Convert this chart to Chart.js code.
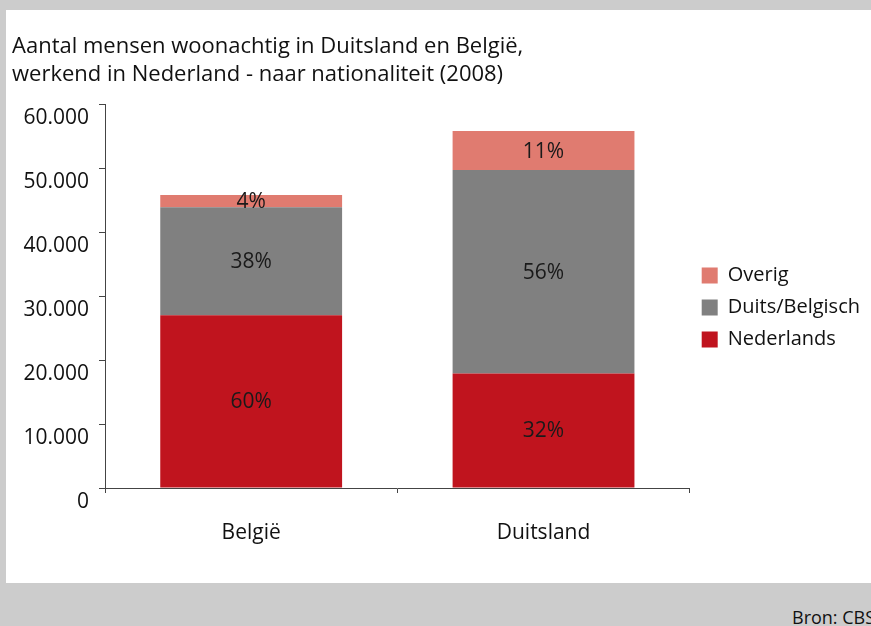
<!DOCTYPE html>
<html>
<head>
<meta charset="utf-8">
<script src="https://cdn.jsdelivr.net/npm/chart.js@4.4.1/dist/chart.umd.min.js"></script>
<style>
  html, body { margin: 0; padding: 0; }
  body { width: 871px; height: 626px; background: #cccccc; position: relative; overflow: hidden; font-family: "Open Sans", sans-serif; }
  #panel { position: absolute; left: 6px; top: 10px; width: 865px; height: 573px; background: #ffffff; }
  #bron { position: absolute; left: 792px; top: 605px; font-size: 18px; color: #111; white-space: nowrap; }
</style>
</head>
<body>
<div id="panel"><canvas id="chart" width="865" height="573"></canvas></div>
<div id="bron">Bron: CBS</div>
<script>
// data
const landen = ['België', 'Duitsland'];
const nederlands = [27000, 17900];
const duitsBelgisch = [16900, 31800];
const overig = [1900, 6100];
const pctNederlands = ['60%', '32%'];
const pctDuitsBelgisch = ['38%', '56%'];
const pctOverig = ['4%', '11%'];
const yTicks = [0, 10000, 20000, 30000, 40000, 50000, 60000];

var rood = 'rgb(192, 20, 30)'
var grijs = 'rgb(128, 128, 128)'
var zalm = 'rgb(224, 123, 112)'
var fontFam = '"Open Sans", sans-serif'

// writes the percentages in the middle of each block
const pctLabels = {
    id: 'pctLabels',
    afterDatasetsDraw(chart) {
        const ctx = chart.ctx;
        ctx.save();
        ctx.font = '21px ' + fontFam;
        ctx.fillStyle = '#1a1a1a';
        ctx.textAlign = 'center';
        ctx.textBaseline = 'middle';
        chart.data.datasets.forEach((ds, i) => {
            chart.getDatasetMeta(i).data.forEach((bar, j) => {
                ctx.fillText(ds.pct[j], bar.x, (bar.y + bar.base) / 2 + 1);
            });
        });
        ctx.restore();
    }
};

var chart = new Chart('chart', {
    type: 'bar',
    data: {
        labels: landen,
        datasets: [
            { label: 'Nederlands', data: nederlands, pct: pctNederlands, backgroundColor: rood },
            { label: 'Duits/Belgisch', data: duitsBelgisch, pct: pctDuitsBelgisch, backgroundColor: grijs },
            { label: 'Overig', data: overig, pct: pctOverig, backgroundColor: zalm }
        ]
    },
    options: {
        responsive: false,
        animation: false,
        layout: { padding: { left: 6, top: 22, right: 1, bottom: 0 } },
        datasets: { bar: { categoryPercentage: 1, barPercentage: 0.622 } },
        plugins: {
            title: {
                display: true,
                align: 'start',
                text: ['Aantal mensen woonachtig in Duitsland en België,', 'werkend in Nederland - naar nationaliteit (2008)'],
                color: '#111',
                font: { family: fontFam, size: 22, weight: 'normal', lineHeight: 1.3 },
                padding: { top: 0, bottom: 15 }
            },
            legend: {
                position: 'right',
                reverse: true,
                labels: {
                    color: '#111',
                    boxWidth: 16,
                    boxHeight: 16,
                    padding: 12,
                    font: { family: fontFam, size: 20, lineHeight: 0.95 }
                }
            },
            tooltip: { enabled: false }
        },
        scales: {
            x: {
                stacked: true,
                border: { color: '#444', width: 1 },
                grid: { display: true, drawOnChartArea: false, tickLength: 5, color: '#444', offset: true },
                ticks: { color: '#111', padding: 27, font: { family: fontFam, size: 21 } },
                afterFit: (s) => { s.height = 95; }
            },
            y: {
                stacked: true,
                min: 0,
                max: 60000,
                border: { color: '#444', width: 1 },
                grid: { display: true, drawOnChartArea: false, tickLength: 6, color: '#444' },
                afterBuildTicks: (s) => { s.ticks = yTicks.map(v => ({ value: v })); },
                ticks: {
                    color: '#111',
                    padding: 10,
                    labelOffset: 14,
                    font: { family: fontFam, size: 21 },
                    callback: (v) => v.toLocaleString('nl-NL')
                },
                afterFit: (s) => { s.width = 93; }
            }
        }
    },
    plugins: [pctLabels]
});
</script>
</body>
</html>
